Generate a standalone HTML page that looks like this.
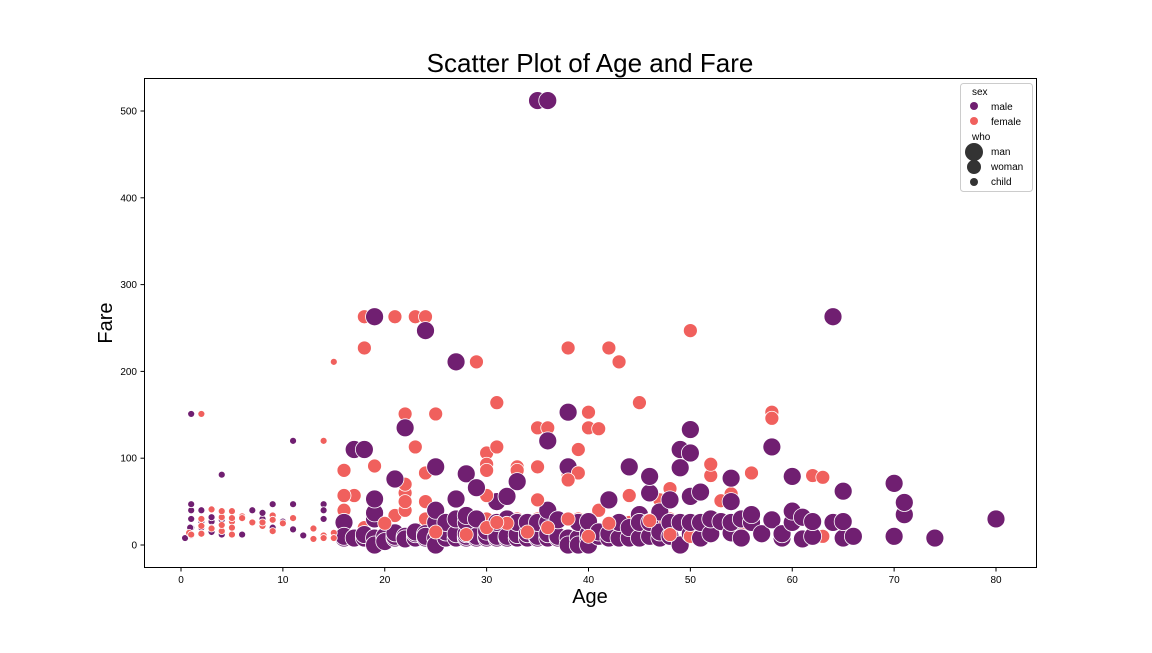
<!DOCTYPE html>
<html><head><meta charset="utf-8"><style>
body{margin:0;background:#fff;font-family:"Liberation Sans",sans-serif;}
svg text{font-family:"Liberation Sans",sans-serif;}
</style></head><body>
<svg id="chart" width="1152" height="648">
<text x="590" y="72" font-size="26" text-anchor="middle">Scatter Plot of Age and Fare</text>
<g id="marks"></g>
<rect x="144.5" y="78.5" width="892" height="489" fill="none" stroke="#000" stroke-width="1"/>
<g id="axes"></g>
<text x="590" y="603" font-size="20" text-anchor="middle">Age</text>
<text x="112" y="323" font-size="20" text-anchor="middle" transform="rotate(-90 112 323)">Fare</text>
<g>
<rect x="960.5" y="83.5" width="72" height="108" rx="3" fill="#fff" stroke="#ccc"/>
<text x="972" y="95" font-size="10">sex</text>
<circle cx="974" cy="106" r="4" fill="#701f71"/>
<text x="991" y="110" font-size="10">male</text>
<circle cx="974" cy="121" r="4" fill="#f0605d"/>
<text x="991" y="125" font-size="10">female</text>
<text x="972" y="140" font-size="10">who</text>
<circle cx="974" cy="152" r="9" fill="#333"/>
<text x="991" y="155" font-size="10">man</text>
<circle cx="974" cy="167" r="7" fill="#333"/>
<text x="991" y="170" font-size="10">woman</text>
<circle cx="974" cy="182" r="4" fill="#333"/>
<text x="991" y="185" font-size="10">child</text>
</g>
</svg>
<script>
var xTicks=[0,10,20,30,40,50,60,70,80];
var yTicks=[0,100,200,300,400,500];
var manAge=[16,16,16,17,18,18,19,19,19,19,19,20,20,20,21,21,21,22,22,22,23,23,23,24,24,24,25,25,25,25,26,26,26,27,27,27,27,28,28,28,28,28,29,29,29,30,30,30,30,31,31,31,31,32,32,32,32,33,33,33,34,34,34,35,35,35,36,36,36,36,37,37,37,38,38,38,39,39,39,40,40,40,40,41,41,42,42,42,43,43,44,44,45,45,45,46,46,46,47,47,47,48,48,48,49,49,49,50,50,50,51,51,52,52,53,54,54,54,55,55,56,56,57,58,59,59,60,60,61,61,62,62,64,65,65,66,70,71,35,36,19,64,24,27,22,38,50,36,17,18,58,70,71,80,74,65,49,44,25,28,60,54,50,46,33,29,51,21];
var manFare=[8,26,10,8,8,12,8,0,30,37,53,8,10,4,8,10,14,8,10,7,8,13,15,8,13,10,8,0,26,40,8,15,26,8,13,53,30,8,10,13,26,34,8,10,30,8,13,10,16,8,10,26,50,8,10,56,30,8,12,26,8,13,26,8,10,26,8,13,26,40,8,10,29,8,0,90,8,26,0,8,13,27,0,10,15,8,13,52,8,26,8,20,8,35,26,10,26,60,8,15,38,10,26,52,0,26,89,13,26,56,8,26,13,30,27,14,26,50,8,30,26,35,13,29,8,13,26,39,7,32,10,27,26,8,27,10,10,35,512,512,263,263,247,211,135,153,133,120,110,110,113,71,49,30,8,62,110,90,90,82,79,77,106,79,73,66,61,76];
var womanAge=[16,17,18,18,19,20,21,22,22,22,22,23,24,24,24,25,26,26,27,27,28,29,30,30,31,32,33,34,35,36,37,38,38,39,40,41,42,43,44,45,47,48,49,50,52,54,55,57,58,60,63,18,21,23,24,18,38,42,29,43,50,22,25,58,58,39,31,45,40,35,36,40,41,30,23,31,52,30,19,33,35,24,39,56,62,63,17,16,16,48,47,53,54,30,44,20,25,28,30,32,34,36,38,40,42,46,48,50,35,38,30,31,33,22];
var womanFare=[40,10,10,20,30,10,34,10,40,60,50,8,26,30,50,26,8,20,10,22,24,26,30,8,26,15,30,26,30,13,26,8,80,30,26,40,13,10,26,14,26,30,26,28,80,23,16,10,26,79,10,263,263,263,263,227,227,227,211,211,247,151,151,153,146,110,164,164,153,135,135,135,134,106,113,113,93,93,91,90,90,83,83,83,80,78,57,86,57,65,52,51,59,57,57,25,15,12,20,25,15,20,30,10,25,28,12,10,52,75,86,26,86,70];
var childAge=[0.4,0.8,1,1,1,1,1,2,2,3,3,3,4,4,4,6,7,8,8,9,9,9,10,11,11,11,12,14,14,14,1,2,3,0.9,0.8,1,2,2,2,2,3,3,4,4,4,5,5,5,5,6,6,7,8,8,9,9,9,10,11,13,13,14,14,14,15,15,15,5,4];
var childFare=[8,15,40,20,47,30,151,27,40,27,15,32,12,81,29,12,40,30,37,47,31,20,27,120,47,18,11,47,40,30,11,20,20,20,14,12,151,13,30,22,41,19,16,23,32,12,27,20,31,33,31,26,22,26,16,34,29,25,31,7,19,120,11,8,211,14,8,39,39];
var childSex=["m","m","m","m","m","m","m","m","m","m","m","m","m","m","m","m","m","m","m","m","m","m","m","m","m","m","m","m","m","m","m","m","m","m","f","f","f","f","f","f","f","f","f","f","f","f","f","f","f","f","f","f","f","f","f","f","f","f","f","f","f","f","f","f","f","f","f","f","f"];
var NS="http://www.w3.org/2000/svg";
function xs(v){return 181+v*(996-181)/80;}
function ys(v){return 545-v*(545-111)/500;}
var axes=document.getElementById('axes'),marks=document.getElementById('marks');
function mk(tag,attrs,parent){var e=document.createElementNS(NS,tag);for(var k in attrs)e.setAttribute(k,attrs[k]);parent.appendChild(e);return e;}
xTicks.forEach(function(t){
 var l=mk('line',{x1:xs(t),x2:xs(t),y1:567.5,y2:571.5,stroke:'#000'},axes);
 
 
 var tx=mk('text',{x:xs(t),y:583,'font-size':10,'text-anchor':'middle'},axes);tx.textContent=t;
 
 
});
yTicks.forEach(function(t){
 var l=mk('line',{x1:140.5,x2:144.5,y1:ys(t),y2:ys(t),stroke:'#000'},axes);
 
 
 var tx=mk('text',{x:137,y:ys(t)+3.5,'font-size':10,'text-anchor':'end'},axes);tx.textContent=t;
 
 
});
var MALE='#701f71',FEMALE='#f0605d';
function dot(a,f,r,c,name){
 var e=mk('circle',{cx:xs(a),cy:ys(f),r:r,fill:c,stroke:'#fff','stroke-width':0.8},marks);
 
 
}
var n=Math.max(manAge.length,womanAge.length,childAge.length);
for(var i=0;i<n;i++){
 if(i<manAge.length)dot(manAge[i],manFare[i],9,MALE,'point-man');
 if(i<womanAge.length)dot(womanAge[i],womanFare[i],7,FEMALE,'point-woman');
 if(i<childAge.length)dot(childAge[i],childFare[i],3.5,childSex[i]=='m'?MALE:FEMALE,'point-child');
}
</script>
</body></html>
